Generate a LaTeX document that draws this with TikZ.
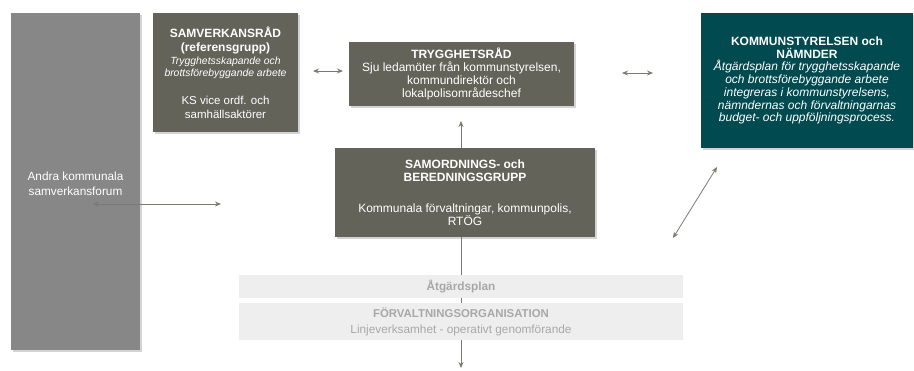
\documentclass[tikz,border=0pt]{standalone}
\usepackage{fontspec}
\setmainfont{Liberation Sans}
\usetikzlibrary{arrows.meta,shadows}
\definecolor{boxgray}{HTML}{64635A}
\definecolor{sidegray}{HTML}{878787}
\definecolor{teal}{HTML}{004A50}
\definecolor{pale}{HTML}{EEEEEE}
\definecolor{paletext}{HTML}{A8A8A8}
\definecolor{linegray}{HTML}{7A7A72}
\newcommand{\smit}[1]{{\fontsize{10.4}{12}\selectfont\itshape #1}}
\newcommand{\ksit}[1]{{\itshape #1}}
\tikzstyle{box}=[rectangle,inner sep=0pt,align=center,text=white,drop shadow={shadow xshift=1.5pt,shadow yshift=-1.5pt,opacity=0.35}]
\tikzstyle{darkbox}=[box,fill=boxgray]
\tikzstyle{palebox}=[rectangle,inner sep=0pt,align=center,fill=pale,text=paletext]
\tikzstyle{conn}=[draw,linegray,line width=0.8pt,{Stealth[length=6pt,width=5pt]}-{Stealth[length=6pt,width=5pt]}]
\tikzstyle{oneway}=[draw,linegray,line width=0.8pt,-{Stealth[length=6pt,width=5pt]}]

\begin{document}
\begin{tikzpicture}[x=1pt,y=-1pt]
    \useasboundingbox (0,0) rectangle (914,370);
    % boxes
    \node[box,fill=sidegray,minimum width=129pt,minimum height=337pt] (andra) at (75.5,181.5) {};
    \node[text=white,align=center,font=\fontsize{11.8}{15.5}\selectfont] (andratext) at (75.5,184) {Andra kommunala\\samverkansforum};
    \node[darkbox,minimum width=145pt,minimum height=119pt,font=\fontsize{12}{13.5}\selectfont] (samverk) at (225.5,72.5)
        {\textbf{SAMVERKANSRÅD}\\[0.5pt]\textbf{(referensgrupp)}\\
         \smit{Trygghetsskapande och}\\[-1.8pt]\smit{brottsförebyggande arbete}\\[14.8pt]
         {\fontsize{11.5}{13.5}\selectfont KS vice ordf. och}\\{\fontsize{11.5}{13.5}\selectfont samhällsaktörer}};
    \node[darkbox,minimum width=225pt,minimum height=64pt,font=\fontsize{12}{12.7}\selectfont] (trygg) at (461.5,74)
        {\textbf{TRYGGHETSRÅD}\\Sju ledamöter från kommunstyrelsen,\\kommundirektör och\\lokalpolisområdeschef};
    \node[darkbox,minimum width=260pt,minimum height=89pt,font=\fontsize{12}{13}\selectfont] (samord) at (465,192.5)
        {\textbf{SAMORDNINGS- och}\\\textbf{BEREDNINGSGRUPP}\\[18.5pt]
         Kommunala förvaltningar, kommunpolis,\\RTÖG};
    \node[box,fill=teal,minimum width=212pt,minimum height=135pt,font=\fontsize{12}{12.7}\selectfont] (kommun) at (807,80.5)
        {\textbf{KOMMUNSTYRELSEN och}\\\textbf{NÄMNDER}\\
         \ksit{Åtgärdsplan för trygghetsskapande}\\\ksit{och brottsförebyggande arbete}\\
         \ksit{integreras i kommunstyrelsens,}\\\ksit{nämndernas och förvaltningarnas}\\
         \ksit{budget- och uppföljningsprocess.}};
    % ankare
    \coordinate (l1) at (93,204);
    \coordinate (l2) at (221,204);
    \coordinate (s1) at (313,71);
    \coordinate (s2) at (343,71);
    \coordinate (k1) at (622,73);
    \coordinate (k2) at (653,73);
    \coordinate (d1) at (717,167);
    \coordinate (d2) at (673,238);
    \coordinate (u1) at (461,148);
    \coordinate (u2) at (461,121);
    \coordinate (n1) at (461,237);
    \coordinate (n2) at (461,368);
    % pilar
    \path[oneway] (n1) -- (n2);
    \path[conn] (l1) -- (l2);
    \path[conn] (s1) -- (s2);
    \path[conn] (k1) -- (k2);
    \path[conn] (d1) -- (d2);
    \path[oneway] (u1) -- (u2);
    % ljusa rutor
    \node[palebox,minimum width=444pt,minimum height=23pt,font=\fontsize{11.8}{13}\selectfont\bfseries] (atgard) at (461,286.5) {Åtgärdsplan};
    \node[palebox,minimum width=444pt,minimum height=37pt,font=\fontsize{11.8}{16}\selectfont] (forv) at (461,321.5)
        {{\fontsize{11.4}{16}\selectfont\bfseries FÖRVALTNINGSORGANISATION}\\Linjeverksamhet - operativt genomförande};
\end{tikzpicture}
\end{document}
